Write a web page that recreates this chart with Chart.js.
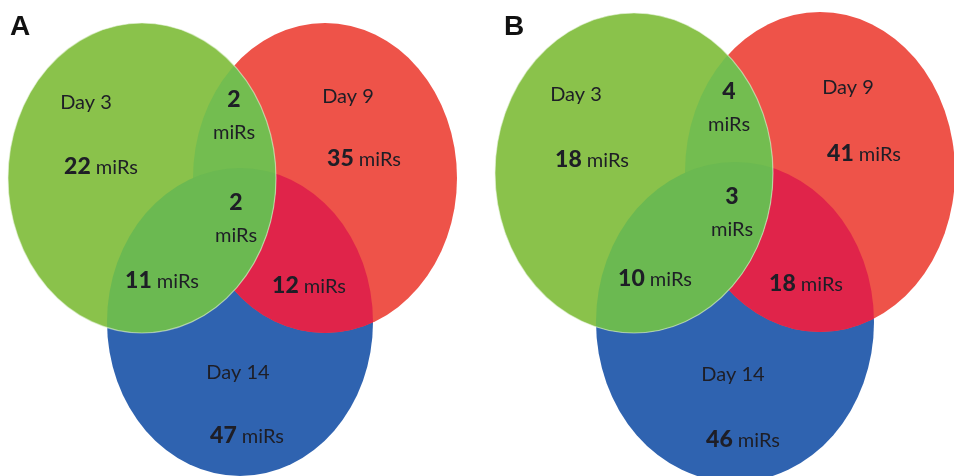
<!DOCTYPE html>
<html>
<head>
<meta charset="utf-8">
<script src="https://cdn.jsdelivr.net/npm/chart.js@4/dist/chart.umd.min.js"></script>
<style>
  html, body { margin: 0; padding: 0; background: #fff; }
  #wrap { width: 954px; height: 476px; display: flex; }
  .panel { width: 477px; height: 476px; position: relative; }
</style>
</head>
<body>
<div id="wrap">
  <div class="panel"><canvas id="cA" width="477" height="476"></canvas></div>
  <div class="panel"><canvas id="cB" width="477" height="476"></canvas></div>
</div>
<script>
// ---------- data ----------
const setNames = ['Day 3', 'Day 9', 'Day 14'];
const regionKeys = ['Day 3 only', 'Day 9 only', 'Day 14 only', 'Day 3 & Day 9', 'Day 3 & Day 14', 'Day 9 & Day 14', 'All three'];
const countsA = [22, 35, 47, 2, 11, 12, 2];
const countsB = [18, 41, 46, 4, 10, 18, 3];
const unitLabel = 'miRs';
const panelLetters = ['A', 'B'];

// ---------- layout (geometry in each panel's data units) ----------
const ellipsesA = [
  { cx: 142, cy: 178, rx: 134, ry: 155 },  // Day 3
  { cx: 325, cy: 178, rx: 132, ry: 155 },  // Day 9
  { cx: 240, cy: 322, rx: 133, ry: 154 }   // Day 14
];
const ellipsesB = [
  { cx: 157, cy: 173, rx: 139, ry: 160 },
  { cx: 343, cy: 172, rx: 135, ry: 160 },
  { cx: 258, cy: 322, rx: 139, ry: 160 }
];
// set-name label positions
const namePosA = [[86, 103], [348, 97], [238, 373]];
const namePosB = [[99, 95], [371, 88], [256, 375]];
// region label positions [x, y, stacked]
const regionPosA = [[101, 166, 0], [364, 158, 0], [247, 435, 0], [234, 99, 1], [162, 280, 0], [309, 285, 0], [236, 202, 1]];
const regionPosB = [[115, 159, 0], [387, 153, 0], [266, 439, 0], [252, 91, 1], [178, 278, 0], [329, 283, 0], [255, 196, 1]];
const letterPos = [[10, 35], [27, 35]];

const colors = {
  green: '#8AC24B', red: '#EE5349', blue: '#2F63B0',
  greenRed: '#73BD50', greenBlue: '#6BB951', redBlue: '#E0244A',
  text: '#1e1e26'
};

function ellipsePath(ctx, chart, e) {
  const xs = chart.scales.x, ys = chart.scales.y;
  const cx = xs.getPixelForValue(e.cx), cy = ys.getPixelForValue(e.cy);
  const rx = Math.abs(xs.getPixelForValue(e.cx + e.rx) - cx);
  const ry = Math.abs(ys.getPixelForValue(e.cy + e.ry) - cy);
  ctx.beginPath();
  ctx.ellipse(cx, cy, rx, ry, 0, 0, Math.PI * 2);
}

const vennPlugin = {
  id: 'venn',
  beforeDatasetsDraw(chart) {
    const o = chart.options.plugins.venn;
    const E = o.ellipses;
    const ctx = chart.ctx;
    const fill = (e, c) => { ellipsePath(ctx, chart, e); ctx.fillStyle = c; ctx.fill(); };
    const clipFill = (a, b, c) => {
      ctx.save(); ellipsePath(ctx, chart, a); ctx.clip(); fill(b, c); ctx.restore();
    };
    ctx.save();
    fill(E[2], colors.blue);
    fill(E[1], colors.red);
    clipFill(E[1], E[2], colors.redBlue);
    fill(E[0], colors.green);
    clipFill(E[0], E[1], colors.greenRed);
    clipFill(E[0], E[2], colors.greenBlue);
    ellipsePath(ctx, chart, E[0]);
    ctx.strokeStyle = 'rgba(235,245,225,0.55)';
    ctx.lineWidth = 1.2;
    ctx.stroke();
    ctx.restore();
  },
  afterDatasetsDraw(chart) {
    const o = chart.options.plugins.venn;
    const ctx = chart.ctx;
    const xs = chart.scales.x, ys = chart.scales.y;
    const numFont = '900 23px Lato, "DejaVu Sans", sans-serif';
    const txtFont = '20px Lato, "Open Sans", sans-serif';
    ctx.save();
    // letter
    ctx.font = 'bold 28px "Liberation Sans", Arial, sans-serif';
    ctx.textAlign = 'left';
    ctx.textBaseline = 'alphabetic';
    ctx.fillStyle = '#111';
    ctx.fillText(o.letter, xs.getPixelForValue(o.letterPos[0]), ys.getPixelForValue(o.letterPos[1]));
    ctx.fillStyle = colors.text;
    // set names
    ctx.textBaseline = 'middle';
    ctx.font = txtFont;
    ctx.textAlign = 'center';
    setNames.forEach((n, i) => {
      ctx.fillText(n, xs.getPixelForValue(o.namePos[i][0]), ys.getPixelForValue(o.namePos[i][1]));
    });
    // region counts
    ctx.textBaseline = 'alphabetic';
    o.counts.forEach((v, i) => {
      const [x, y, stacked] = o.regionPos[i];
      const px = xs.getPixelForValue(x), py = ys.getPixelForValue(y);
      const num = String(v);
      if (stacked) {
        ctx.textAlign = 'center';
        ctx.font = numFont; ctx.fillText(num, px, py + 8);
        ctx.font = txtFont; ctx.fillText(unitLabel, px, py + 40);
      } else {
        ctx.font = numFont; const w1 = ctx.measureText(num).width;
        ctx.font = txtFont; const w2 = ctx.measureText(' ' + unitLabel).width;
        const left = px - (w1 + w2) / 2;
        ctx.textAlign = 'left';
        ctx.font = numFont; ctx.fillText(num, left, py + 8);
        ctx.font = txtFont; ctx.fillText(' ' + unitLabel, left + w1, py + 8);
      }
    });
    ctx.restore();
  }
};

function makeChart(id, ellipses, counts, namePos, regionPos, letter, lp) {
  return new Chart(document.getElementById(id), {
    type: 'scatter',
    data: {
      datasets: setNames.map((n, i) => ({
        label: n,
        data: [{ x: ellipses[i].cx, y: ellipses[i].cy }],
        pointRadius: 0,
        pointHoverRadius: 0
      }))
    },
    options: {
      responsive: false,
      animation: false,
      events: [],
      layout: { padding: 0 },
      scales: {
        x: { type: 'linear', min: 0, max: 477, display: false },
        y: { type: 'linear', min: 0, max: 476, reverse: true, display: false }
      },
      plugins: {
        legend: { display: false },
        tooltip: { enabled: false },
        venn: { ellipses, counts, namePos, regionPos, letter, letterPos: lp }
      }
    },
    plugins: [vennPlugin]
  });
}

makeChart('cA', ellipsesA, countsA, namePosA, regionPosA, panelLetters[0], letterPos[0]);
makeChart('cB', ellipsesB, countsB, namePosB, regionPosB, panelLetters[1], letterPos[1]);
</script>
</body>
</html>
